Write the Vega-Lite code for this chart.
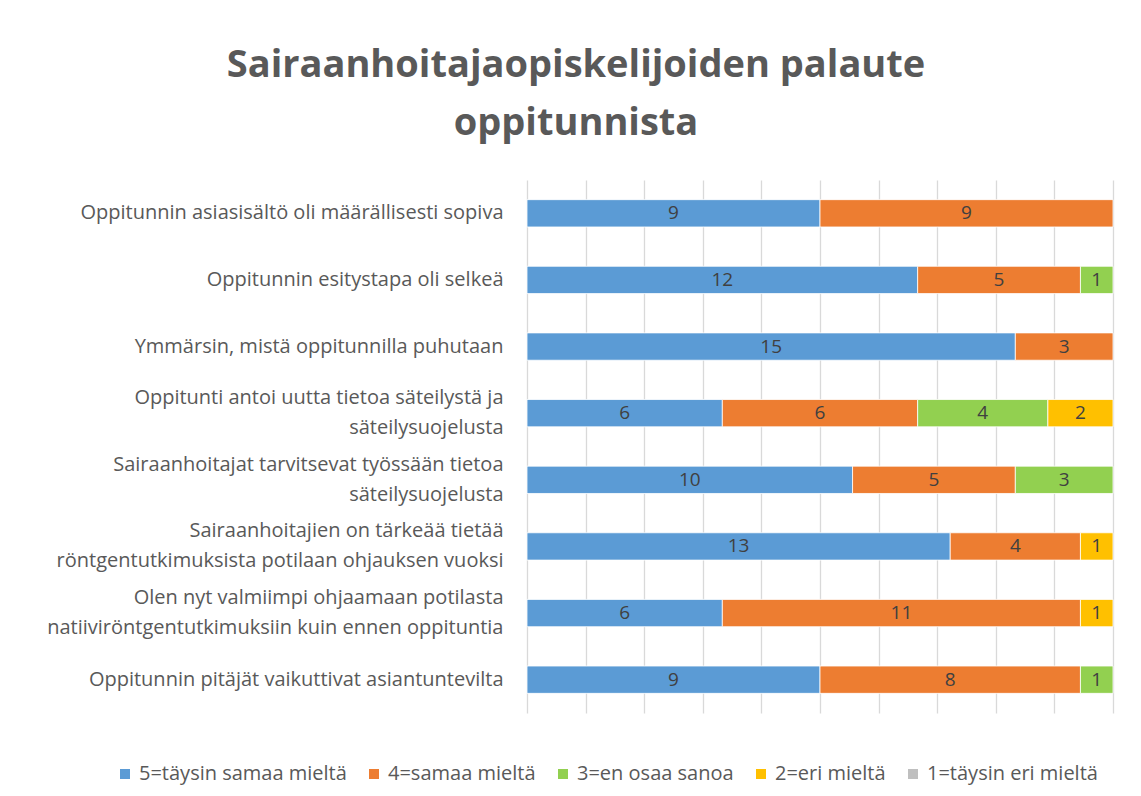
{
  "$schema": "https://vega.github.io/schema/vega-lite/v6.json",
  "autosize": "none",
  "width": 586,
  "height": 533,
  "padding": {"left": 527, "top": 180, "right": 28, "bottom": 83},
  "background": "white",
  "title": {
    "text": ["Sairaanhoitajaopiskelijoiden palaute", "oppitunnista"],
    "fontSize": 38,
    "fontWeight": "bold",
    "font": "Open Sans",
    "color": "#595959",
    "anchor": "middle",
    "dx": -244,
    "offset": 37,
    "lineHeight": 58
  },
  "config": {
    "view": {"stroke": null},
    "font": "Open Sans"
  },
  "data": {
    "values": [
      {"vaite": "Oppitunnin asiasisältö oli määrällisesti sopiva", "vastaus": "5=täysin samaa mieltä", "n": 9},
      {"vaite": "Oppitunnin asiasisältö oli määrällisesti sopiva", "vastaus": "4=samaa mieltä", "n": 9},
      {"vaite": "Oppitunnin esitystapa oli selkeä", "vastaus": "5=täysin samaa mieltä", "n": 12},
      {"vaite": "Oppitunnin esitystapa oli selkeä", "vastaus": "4=samaa mieltä", "n": 5},
      {"vaite": "Oppitunnin esitystapa oli selkeä", "vastaus": "3=en osaa sanoa", "n": 1},
      {"vaite": "Ymmärsin, mistä oppitunnilla puhutaan", "vastaus": "5=täysin samaa mieltä", "n": 15},
      {"vaite": "Ymmärsin, mistä oppitunnilla puhutaan", "vastaus": "4=samaa mieltä", "n": 3},
      {"vaite": "Oppitunti antoi uutta tietoa säteilystä ja|säteilysuojelusta", "vastaus": "5=täysin samaa mieltä", "n": 6},
      {"vaite": "Oppitunti antoi uutta tietoa säteilystä ja|säteilysuojelusta", "vastaus": "4=samaa mieltä", "n": 6},
      {"vaite": "Oppitunti antoi uutta tietoa säteilystä ja|säteilysuojelusta", "vastaus": "3=en osaa sanoa", "n": 4},
      {"vaite": "Oppitunti antoi uutta tietoa säteilystä ja|säteilysuojelusta", "vastaus": "2=eri mieltä", "n": 2},
      {"vaite": "Sairaanhoitajat tarvitsevat työssään tietoa|säteilysuojelusta", "vastaus": "5=täysin samaa mieltä", "n": 10},
      {"vaite": "Sairaanhoitajat tarvitsevat työssään tietoa|säteilysuojelusta", "vastaus": "4=samaa mieltä", "n": 5},
      {"vaite": "Sairaanhoitajat tarvitsevat työssään tietoa|säteilysuojelusta", "vastaus": "3=en osaa sanoa", "n": 3},
      {"vaite": "Sairaanhoitajien on tärkeää tietää|röntgentutkimuksista potilaan ohjauksen vuoksi", "vastaus": "5=täysin samaa mieltä", "n": 13},
      {"vaite": "Sairaanhoitajien on tärkeää tietää|röntgentutkimuksista potilaan ohjauksen vuoksi", "vastaus": "4=samaa mieltä", "n": 4},
      {"vaite": "Sairaanhoitajien on tärkeää tietää|röntgentutkimuksista potilaan ohjauksen vuoksi", "vastaus": "2=eri mieltä", "n": 1},
      {"vaite": "Olen nyt valmiimpi ohjaamaan potilasta|natiiviröntgentutkimuksiin kuin ennen oppituntia", "vastaus": "5=täysin samaa mieltä", "n": 6},
      {"vaite": "Olen nyt valmiimpi ohjaamaan potilasta|natiiviröntgentutkimuksiin kuin ennen oppituntia", "vastaus": "4=samaa mieltä", "n": 11},
      {"vaite": "Olen nyt valmiimpi ohjaamaan potilasta|natiiviröntgentutkimuksiin kuin ennen oppituntia", "vastaus": "2=eri mieltä", "n": 1},
      {"vaite": "Oppitunnin pitäjät vaikuttivat asiantuntevilta", "vastaus": "5=täysin samaa mieltä", "n": 9},
      {"vaite": "Oppitunnin pitäjät vaikuttivat asiantuntevilta", "vastaus": "4=samaa mieltä", "n": 8},
      {"vaite": "Oppitunnin pitäjät vaikuttivat asiantuntevilta", "vastaus": "3=en osaa sanoa", "n": 1}
    ]
  },
  "encoding": {
    "y": {
      "field": "vaite",
      "type": "nominal",
      "sort": null,
      "title": null,
      "scale": {"paddingInner": 0.59, "paddingOuter": 0.295},
      "axis": {
        "domain": false,
        "ticks": false,
        "labelPadding": 24,
        "labelFontSize": 20,
        "labelFont": "Open Sans",
        "labelColor": "#595959",
        "labelLimit": 0,
        "labelLineHeight": 30,
        "labelExpr": "split(datum.value, '|')",
        "labelOffset": {
          "condition": {"test": "indexof(datum.value, '|') >= 0", "value": -15},
          "value": 0
        }
      }
    },
    "x": {
      "field": "n",
      "type": "quantitative",
      "stack": "normalize",
      "title": null,
      "scale": {"domain": [0, 1], "nice": false},
      "axis": {
        "grid": true,
        "gridColor": "#d9d9d9",
        "gridWidth": 1.3,
        "labels": false,
        "ticks": false,
        "domain": false,
        "values": [0, 0.1, 0.2, 0.3, 0.4, 0.5, 0.6, 0.7, 0.8, 0.9, 1]
      }
    },
    "order": {"field": "vastaus", "sort": "descending"}
  },
  "layer": [
    {
      "mark": {"type": "bar", "stroke": "white", "strokeWidth": 0.8},
      "encoding": {
        "color": {
          "field": "vastaus",
          "type": "nominal",
          "scale": {
            "domain": ["5=täysin samaa mieltä", "4=samaa mieltä", "3=en osaa sanoa", "2=eri mieltä", "1=täysin eri mieltä"],
            "range": ["#5B9BD5", "#ED7D31", "#92D050", "#FFC000", "#BFBFBF"]
          },
          "legend": {
            "title": null,
            "orient": "none",
            "direction": "horizontal",
            "columns": 5,
            "legendX": -412,
            "legendY": 584,
            "padding": 0,
            "symbolType": "square",
            "symbolSize": 100,
            "symbolStrokeWidth": 0,
            "labelFontSize": 20,
            "labelFont": "Open Sans",
            "labelColor": "#595959",
            "labelOffset": 4,
            "columnPadding": 17,
            "labelLimit": 0
          }
        }
      }
    },
    {
      "mark": {"type": "text", "fontSize": 19, "color": "#404040", "font": "Open Sans"},
      "encoding": {
        "x": {"field": "n", "type": "quantitative", "stack": "normalize", "bandPosition": 0.5},
        "text": {"field": "n", "type": "quantitative"}
      }
    }
  ]
}
